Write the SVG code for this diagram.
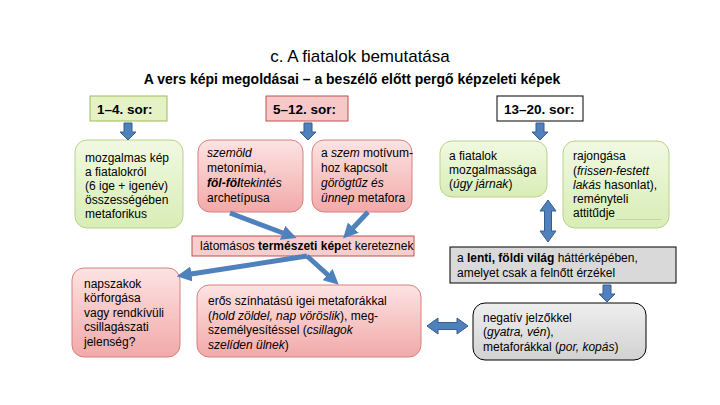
<svg xmlns="http://www.w3.org/2000/svg" width="720" height="405" viewBox="0 0 720 405">
<style>
text{font-family:"Liberation Sans",Arial,sans-serif;fill:#000;}
.t{font-size:12px;}
.h{font-size:13.5px;font-weight:bold;}
.it{font-style:italic;}
.b{font-weight:bold;}
.pink{fill:url(#gp);stroke:#d98080;stroke-width:1;}
.green{fill:url(#gg);stroke:#b9d38a;stroke-width:1;}
.gray{fill:url(#gy);stroke:#000;stroke-width:1;}
.blk{fill:#4f81bd;stroke:#385d8a;stroke-width:1;}
.ln{stroke:#4f81bd;stroke-width:5;fill:none;}
</style>
<defs>
<linearGradient id="gp" x1="0" y1="0" x2="0" y2="1"><stop offset="0" stop-color="#fde3e3"/><stop offset="1" stop-color="#f2a9a9"/></linearGradient>
<linearGradient id="gg" x1="0" y1="0" x2="0" y2="1"><stop offset="0" stop-color="#f1f9e2"/><stop offset="1" stop-color="#d8edb6"/></linearGradient>
<linearGradient id="gy" x1="0" y1="0" x2="0" y2="1"><stop offset="0" stop-color="#eeeeee"/><stop offset="1" stop-color="#d2d2d2"/></linearGradient>
<marker id="ah" markerUnits="userSpaceOnUse" markerWidth="15" markerHeight="15" viewBox="0 0 15 15" refX="0.5" refY="7.5" orient="auto"><path d="M0,0 L15,7.5 L0,15 Z" fill="#4f81bd"/></marker>
<path id="dn" d="M-4,0 H4 V9 H8 L0,17 L-8,9 H-4 Z"/>
</defs>

<text x="360" y="62" text-anchor="middle" style="font-size:17px">c. A fiatalok bemutatása</text>
<text x="352" y="84" text-anchor="middle" style="font-size:14px;font-weight:bold">A vers képi megoldásai – a beszélő előtt pergő képzeleti képek</text>

<g id="h1"><rect x="90" y="96" width="77" height="25" fill="#e5f2c6" stroke="#9bbb59"/><text class="h" x="97" y="114">1–4. sor:</text></g>
<g id="h2"><rect x="266" y="96" width="82" height="25" fill="#f7c8c8" stroke="#c0504d"/><text class="h" x="273" y="114">5–12. sor:</text></g>
<g id="h3"><rect x="497" y="96" width="86" height="25" fill="#fff" stroke="#000"/><text class="h" x="504" y="114">13–20. sor:</text></g>

<g id="g1"><rect class="green" x="75" y="140" width="108" height="88" rx="12"/>
<text class="t" x="85" y="162">mozgalmas kép</text>
<text class="t" x="85" y="176">a fiatalokról</text>
<text class="t" x="85" y="190">(6 ige + igenév)</text>
<text class="t" x="85" y="204">összességében</text>
<text class="t" x="85" y="218">metaforikus</text></g>

<g id="p1"><rect class="pink" x="198" y="140" width="105" height="72" rx="12"/>
<text class="t it" x="207" y="157">szemöld</text>
<text class="t" x="207" y="172">metonímia,</text>
<text class="t it" x="207" y="187"><tspan class="b">föl-föl</tspan>tekintés</text>
<text class="t" x="207" y="202">archetípusa</text></g>

<g id="p2"><rect class="pink" x="312" y="140" width="100" height="72" rx="12"/>
<text class="t" x="321" y="157">a <tspan class="it">szem</tspan> motívum-</text>
<text class="t" x="321" y="172">hoz kapcsolt</text>
<text class="t it" x="321" y="187">görögtűz és</text>
<text class="t" x="321" y="202"><tspan class="it">ünnep</tspan> metafora</text></g>

<g id="g2"><rect class="green" x="440" y="141" width="107" height="56" rx="12"/>
<text class="t" x="449" y="160">a fiatalok</text>
<text class="t" x="449" y="174">mozgalmassága</text>
<text class="t" x="449" y="188">(<tspan class="it">úgy járnak</tspan>)</text></g>

<g id="g3"><rect class="green" x="563" y="141" width="106" height="87" rx="12"/>
<text class="t" x="573" y="160">rajongása</text>
<text class="t" x="573" y="175">(<tspan class="it">frissen-festett</tspan></text>
<text class="t" x="573" y="189"><tspan class="it">lakás</tspan> hasonlat),</text>
<text class="t" x="573" y="203">reményteli</text>
<text class="t" x="573" y="217">attitűdje</text>
<line x1="616" y1="219.5" x2="661" y2="219.5" stroke="#c4d6a8" stroke-width="1"/></g>

<g id="band"><rect x="192" y="236" width="222" height="20" fill="#f8cdcd" stroke="#c0504d"/>
<text class="t" x="200" y="250">látomásos <tspan class="b">természeti kép</tspan>et kereteznek</text></g>

<g id="p3"><rect class="pink" x="72" y="268" width="108" height="89" rx="12"/>
<text class="t" x="84" y="288">napszakok</text>
<text class="t" x="84" y="302">körforgása</text>
<text class="t" x="84" y="317">vagy rendkívüli</text>
<text class="t" x="84" y="331">csillagászati</text>
<text class="t" x="84" y="346">jelenség?</text></g>

<g id="p4"><rect class="pink" x="197" y="285" width="224" height="72" rx="12"/>
<text class="t" x="208" y="305">erős színhatású igei metaforákkal</text>
<text class="t" x="208" y="320">(<tspan class="it">hold zöldel, nap vöröslik</tspan>), meg-</text>
<text class="t" x="208" y="334">személyesítéssel (<tspan class="it">csillagok</tspan></text>
<text class="t" x="208" y="349"><tspan class="it">szelíden ülnek</tspan>)</text></g>

<g id="gr1"><rect x="450" y="247" width="226" height="36" fill="#d9d9d9" stroke="#000"/>
<text class="t" x="457" y="262">a <tspan class="b">lenti, földi világ</tspan> háttérképében,</text>
<text class="t" x="457" y="277">amelyet csak a felnőtt érzékel</text></g>

<g id="gr2"><rect class="gray" x="473" y="303" width="173" height="57" rx="12"/>
<text class="t" x="483" y="322"> negatív jelzőkkel</text>
<text class="t" x="483" y="336">(<tspan class="it">gyatra, vén</tspan>),</text>
<text class="t" x="483" y="351">metaforákkal (<tspan class="it">por, kopás</tspan>)</text></g>

<g id="connectors">
<use href="#dn" class="blk" x="128" y="123"/>
<use href="#dn" class="blk" x="308" y="123"/>
<use href="#dn" class="blk" x="540" y="123"/>
<use href="#dn" class="blk" x="607" y="285"/>
<path class="blk" d="M548,200 L556,211 H551.5 V231 H556 L548,242 L540,231 H544.5 V211 H540 Z"/>
<path class="blk" d="M427,326 L438,318 V322.5 H457 V318 L468,326 L457,334 V329.5 H438 V334 Z"/>
<line class="ln" x1="230" y1="213" x2="283" y2="233" marker-end="url(#ah)"/>
<line class="ln" x1="368" y1="212" x2="353" y2="228" marker-end="url(#ah)"/>
<line class="ln" x1="307" y1="256" x2="191" y2="274" marker-end="url(#ah)"/>
<line class="ln" x1="307" y1="256" x2="328" y2="275" marker-end="url(#ah)"/>
</g>
</svg>
